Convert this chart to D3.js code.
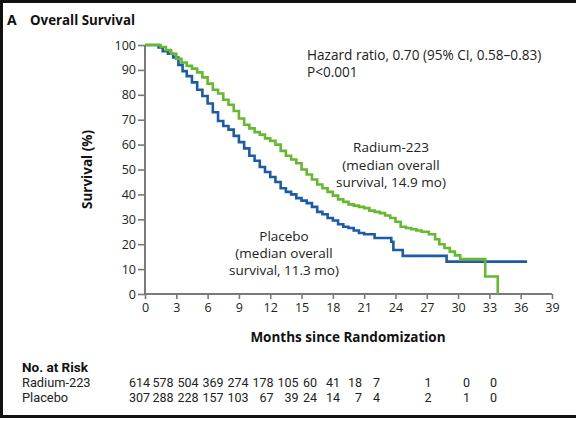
<!DOCTYPE html>
<html>
<head>
<meta charset="utf-8">
<script src="https://cdn.jsdelivr.net/npm/d3@7"></script>
<style>
  html, body { margin: 0; padding: 0; background: #fff; }
  svg { display: block; font-family: "Open Sans", Lato, sans-serif; }
</style>
</head>
<body>
<svg id="chart" width="576" height="421"></svg>
<script>
// Kaplan–Meier estimates: [month, survival %]
const radiumCurve = [
  [0, 100], [1.2, 100], [1.5, 99.2], [2, 98], [2.5, 96.5], [3, 94.5], [3.5, 93], [4, 91.6],
  [4.5, 90.5], [5, 89], [5.5, 87], [6, 84.5], [6.5, 82], [7, 80.5], [7.5, 78], [8, 76],
  [8.5, 73.5], [9, 70.5], [9.5, 68], [10, 66.5], [10.5, 65], [11, 64], [11.5, 62.5], [12, 61.5],
  [12.5, 60], [13, 57.5], [13.5, 55.5], [14, 54], [14.5, 52.5], [15, 50], [15.5, 48], [16, 46],
  [16.5, 44], [17, 42.5], [17.5, 41], [18, 39.5], [18.5, 38], [19, 37], [19.5, 36], [20, 35.5],
  [20.5, 35], [21, 34.5], [21.5, 33.5], [22, 33], [22.5, 32.5], [23, 31.5], [23.5, 30.5], [24, 29],
  [24.5, 27], [25, 26.5], [25.5, 26], [26, 25.5], [26.5, 25], [27.2, 24], [27.8, 22], [28.2, 20],
  [28.7, 18.5], [29.2, 17], [29.7, 15.5], [30.2, 14], [32.6, 7], [33.8, 0]
];
const placeboCurve = [
  [0, 100], [1, 100], [1.3, 99], [1.7, 97.5], [2.2, 96.5], [2.7, 95], [3.2, 92], [3.6, 89.5],
  [4, 87.5], [4.5, 85], [5, 82], [5.5, 79.5], [6, 76.5], [6.5, 73], [7, 69.5], [7.5, 67.5],
  [8, 66], [8.5, 63.5], [9, 61], [9.5, 58.5], [10, 55.5], [10.5, 53.5], [11, 51], [11.5, 49],
  [12, 47], [12.5, 45], [13, 42.5], [13.5, 41], [14, 40], [14.5, 38.5], [15, 37.5], [15.5, 36.5],
  [16, 35], [16.5, 33], [17, 32], [17.5, 30.5], [18, 29.5], [18.5, 28], [19, 27], [19.5, 26.5],
  [20, 25.5], [20.5, 24.5], [21, 24], [22, 22.5], [23.6, 21], [23.8, 17.7], [24.7, 15.3],
  [28.9, 13], [36.6, 13]
];

const xTicks = [0, 3, 6, 9, 12, 15, 18, 21, 24, 27, 30, 33, 36, 39];
const yTicks = [0, 10, 20, 30, 40, 50, 60, 70, 80, 90, 100];

const riskGroups = ["Radium-223", "Placebo"];
const riskRadium = [614, 578, 504, 369, 274, 178, 105, 60, 41, 18, 7, 1, 0, 0];
const riskPlacebo = [307, 288, 228, 157, 103, 67, 39, 24, 14, 7, 4, 2, 1, 0];

// layout
const plot = { left: 145, right: 552, top: 45, bottom: 294 };
const riskColumnRight = [150, 173.5, 198.5, 223.5, 248.5, 273.5, 298.5, 317, 340, 362, 380, 431.5, 470, 497];
const colors = { radium: "#66b92e", placebo: "#1d5ba6", axis: "#7a7a7a" };
const tableFont = "Roboto, \"Open Sans\", sans-serif";

const svg = d3.select("#chart");

// frame around the panel
svg.append("rect")
  .attr("x", 1.5).attr("y", 1.5).attr("width", 580).attr("height", 415)
  .attr("fill", "none").attr("stroke", "#111").attr("stroke-width", 3);

const x = d3.scaleLinear().domain([0, 39]).range([plot.left, plot.right]);
const y = d3.scaleLinear().domain([0, 100]).range([plot.bottom, plot.top]);

// panel title
svg.append("text").attr("x", 7).attr("y", 25)
  .attr("font-size", 14).attr("font-weight", 700).attr("fill", "#111").text("A");
svg.append("text").attr("x", 30).attr("y", 25)
  .attr("font-size", 13.3).attr("font-weight", 700).attr("fill", "#111").text("Overall Survival");

// axes
const yAxis = d3.axisLeft(y).tickValues(yTicks).tickSize(7).tickPadding(2);
const xAxis = d3.axisBottom(x).tickValues(xTicks).tickSize(5).tickPadding(4);

const gy = svg.append("g").attr("transform", `translate(${plot.left},0)`).call(yAxis);
const gx = svg.append("g").attr("transform", `translate(0,${plot.bottom})`).call(xAxis);

[gx, gy].forEach(g => {
  g.select(".domain").attr("stroke", colors.axis).attr("stroke-width", 2);
  g.selectAll(".tick line").attr("stroke", colors.axis).attr("stroke-width", 1.6);
  g.selectAll(".tick text").attr("fill", "#222").attr("font-size", 12.5)
    .attr("font-family", "\"Open Sans\", sans-serif");
});
gy.select(".domain").attr("d", `M0,${plot.bottom}V${plot.top}`);
gx.select(".domain").attr("d", `M${plot.left},0H${plot.right}`);

// axis titles
svg.append("text")
  .attr("transform", `translate(92,${(plot.top + plot.bottom) / 2}) rotate(-90)`)
  .attr("text-anchor", "middle").attr("font-size", 13.5).attr("font-weight", 700)
  .attr("fill", "#111").text("Survival (%)");
svg.append("text")
  .attr("x", 348).attr("y", 342)
  .attr("text-anchor", "middle").attr("font-size", 13.5).attr("font-weight", 700)
  .attr("fill", "#111").text("Months since Randomization");

// survival curves
const line = d3.line()
  .x(d => x(d[0])).y(d => y(d[1]))
  .curve(d3.curveStepAfter);

svg.append("path").datum(placeboCurve)
  .attr("d", line).attr("fill", "none")
  .attr("stroke", colors.placebo).attr("stroke-width", 2.6);
svg.append("path").datum(radiumCurve)
  .attr("d", line).attr("fill", "none")
  .attr("stroke", colors.radium).attr("stroke-width", 2.6);

// annotations
function multiline(lines, cx, y0, dy, anchor, size) {
  const t = svg.append("text").attr("font-size", size).attr("fill", "#222")
    .attr("text-anchor", anchor);
  lines.forEach((s, i) => {
    t.append("tspan").attr("x", cx).attr("y", y0 + i * dy).text(s);
  });
}
multiline(["Hazard ratio, 0.70 (95% CI, 0.58\u20130.83)", "P<0.001"], 307, 59.5, 17.5, "start", 13.6);
multiline(["Radium-223", "(median overall", "survival, 14.9 mo)"], 391, 152, 17.5, "middle", 13.5);
multiline(["Placebo", "(median overall", "survival, 11.3 mo)"], 284, 241, 17, "middle", 13.5);

// number at risk table
svg.append("text").attr("x", 22).attr("y", 371.5)
  .attr("font-family", tableFont)
  .attr("font-size", 13.5).attr("font-weight", 700).attr("fill", "#111").text("No. at Risk");

const riskRows = [riskRadium, riskPlacebo];
riskRows.forEach((row, r) => {
  const yy = 386.5 + r * 15;
  svg.append("text").attr("x", 22).attr("y", yy)
    .attr("font-family", tableFont)
    .attr("font-size", 12.8).attr("fill", "#222").text(riskGroups[r]);
  svg.append("g").selectAll("text").data(row).join("text")
    .attr("x", (d, i) => riskColumnRight[i]).attr("y", yy)
    .attr("font-family", tableFont)
    .attr("text-anchor", "end").attr("font-size", 12.5).attr("fill", "#222")
    .text(d => d);
});
</script>
</body>
</html>
